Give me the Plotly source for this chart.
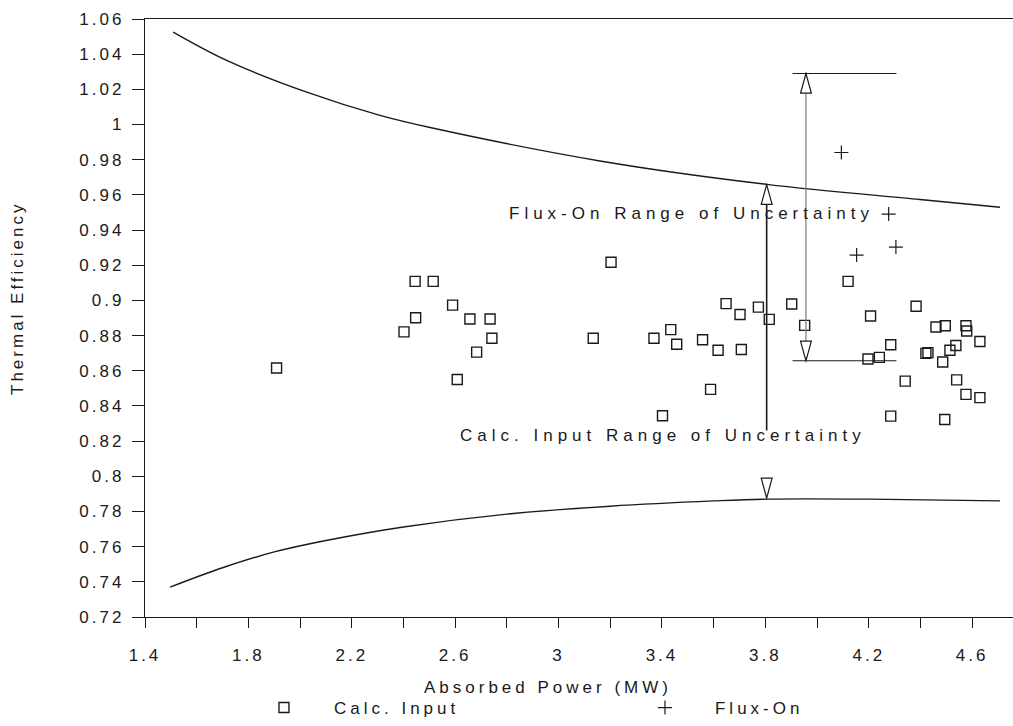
import plotly.graph_objects as go

# ---------------- data ----------------
calc_x = [1.909, 2.402, 2.445, 2.447, 2.515, 2.590, 2.608, 2.657, 2.683, 2.735,
          2.742, 3.134, 3.203, 3.369, 3.402, 3.434, 3.457, 3.557, 3.588, 3.617,
          3.648, 3.702, 3.707, 3.773, 3.815, 3.902, 3.952, 4.120, 4.197, 4.207,
          4.241, 4.285, 4.285, 4.341, 4.383, 4.421, 4.429, 4.460, 4.486, 4.494,
          4.496, 4.514, 4.537, 4.540, 4.576, 4.579, 4.576, 4.630, 4.630]
calc_y = [0.8616, 0.8821, 0.9108, 0.8901, 0.9108, 0.8973, 0.8550, 0.8894, 0.8706, 0.8894,
          0.8785, 0.8785, 0.9217, 0.8785, 0.8344, 0.8834, 0.8751, 0.8776, 0.8494, 0.8717,
          0.8982, 0.8920, 0.8721, 0.8962, 0.8892, 0.8980, 0.8858, 0.9108, 0.8667, 0.8911,
          0.8676, 0.8748, 0.8342, 0.8541, 0.8967, 0.8699, 0.8703, 0.8849, 0.8650, 0.8323,
          0.8856, 0.8717, 0.8744, 0.8548, 0.8856, 0.8826, 0.8466, 0.8766, 0.8447]

flux_x = [4.094, 4.277, 4.305, 4.153]
flux_y = [0.9841, 0.9491, 0.9303, 0.9258]

upper_x = [1.509, 1.716, 2.026, 2.309, 2.503, 3.160, 3.805, 4.398, 4.708]
upper_y = [1.0526, 1.0365, 1.0184, 1.0052, 0.9983, 0.9793, 0.9660, 0.9574, 0.9530]

lower_x = [1.497, 1.700, 1.900, 2.100, 2.400, 2.800, 3.200, 3.600, 3.800, 4.200, 4.708]
lower_y = [0.7370, 0.7480, 0.7570, 0.7635, 0.7712, 0.7785, 0.7830, 0.7860, 0.7870, 0.7870, 0.7860]

y_ticks = [0.72, 0.74, 0.76, 0.78, 0.80, 0.82, 0.84, 0.86, 0.88, 0.90,
           0.92, 0.94, 0.96, 0.98, 1.00, 1.02, 1.04, 1.06]
y_tick_labels = ["0.72", "0.74", "0.76", "0.78", "0.8", "0.82", "0.84", "0.86", "0.88", "0.9",
                 "0.92", "0.94", "0.96", "0.98", "1", "1.02", "1.04", "1.06"]
x_ticks = [1.4, 1.8, 2.2, 2.6, 3.0, 3.4, 3.8, 4.2, 4.6]
x_tick_labels = ["1.4", "1.8", "2.2", "2.6", "3", "3.4", "3.8", "4.2", "4.6"]

# uncertainty-range markers (annotation geometry)
calc_range = dict(x=3.805, top=0.9658, line_bottom=0.826, head_top=0.799, head_tip=0.7875)
flux_range = dict(x=3.957, top=1.029, bottom=0.8657, x0=3.905, x1=4.307)

FONT = "Liberation Sans, Arial, sans-serif"
INK = "#1a1a1a"


def spaced(text, px):
    return f'<span style="letter-spacing:{px}px">{text}</span>'


fig = go.Figure()

fig.add_trace(go.Scatter(x=upper_x, y=upper_y, mode="lines",
                         line=dict(color=INK, width=1.4, shape="spline", smoothing=1.0),
                         showlegend=False, hoverinfo="skip"))
fig.add_trace(go.Scatter(x=lower_x, y=lower_y, mode="lines",
                         line=dict(color=INK, width=1.4, shape="spline", smoothing=1.0),
                         showlegend=False, hoverinfo="skip"))

fig.add_trace(go.Scatter(x=calc_x, y=calc_y, mode="markers", name=spaced("Calc. Input", 4),
                         marker=dict(symbol="square-open", size=10, color=INK,
                                     line=dict(width=1.4, color=INK))))
fig.add_trace(go.Scatter(x=flux_x, y=flux_y, mode="markers", name=spaced("Flux-On", 4),
                         marker=dict(symbol="cross-thin-open", size=10, color=INK,
                                     line=dict(width=1.2, color=INK))))

# ---------------- range indicators ----------------
hw = 0.021   # half width of the hollow arrow heads (x units)
hh = 0.0112  # height of arrow heads (y units)
shapes = []
cx = calc_range["x"]
shapes.append(dict(type="path", xref="x", yref="y",
                   path=f"M {cx-hw},{calc_range['top']-hh} L {cx},{calc_range['top']} L {cx+hw},{calc_range['top']-hh} Z",
                   line=dict(color=INK, width=1.2), fillcolor="white"))
shapes.append(dict(type="line", xref="x", yref="y", x0=cx, x1=cx,
                   y0=calc_range["top"] - hh, y1=calc_range["line_bottom"],
                   line=dict(color=INK, width=1.6)))
shapes.append(dict(type="path", xref="x", yref="y",
                   path=f"M {cx-hw},{calc_range['head_top']} L {cx},{calc_range['head_tip']} L {cx+hw},{calc_range['head_top']} Z",
                   line=dict(color=INK, width=1.2), fillcolor="white"))

fx = flux_range["x"]
shapes.append(dict(type="line", xref="x", yref="y", x0=flux_range["x0"], x1=flux_range["x1"],
                   y0=flux_range["top"], y1=flux_range["top"], line=dict(color=INK, width=1.2)))
shapes.append(dict(type="line", xref="x", yref="y", x0=flux_range["x0"], x1=flux_range["x1"],
                   y0=flux_range["bottom"], y1=flux_range["bottom"], line=dict(color=INK, width=1.2)))
shapes.append(dict(type="line", xref="x", yref="y", x0=fx, x1=fx,
                   y0=flux_range["top"] - hh, y1=flux_range["bottom"] + hh,
                   line=dict(color="#7a7a7a", width=1.2)))
shapes.append(dict(type="path", xref="x", yref="y",
                   path=f"M {fx-hw},{flux_range['top']-hh} L {fx},{flux_range['top']} L {fx+hw},{flux_range['top']-hh} Z",
                   line=dict(color=INK, width=1.2), fillcolor="white"))
shapes.append(dict(type="path", xref="x", yref="y",
                   path=f"M {fx-hw},{flux_range['bottom']+hh} L {fx},{flux_range['bottom']} L {fx+hw},{flux_range['bottom']+hh} Z",
                   line=dict(color=INK, width=1.2), fillcolor="white"))

annotations = [
    dict(x=3.514, y=0.9493, xref="x", yref="y", showarrow=False,
         text=spaced("Flux-On Range of Uncertainty", 5), font=dict(size=17, color=INK, family=FONT)),
    dict(x=3.404, y=0.8230, xref="x", yref="y", showarrow=False,
         text=spaced("Calc. Input Range of Uncertainty", 5), font=dict(size=17, color=INK, family=FONT)),
    dict(x=2.959, y=-0.1176, xref="x", yref="paper", showarrow=False, yanchor="middle",
         text=spaced("Absorbed Power (MW)", 4), font=dict(size=17, color=INK, family=FONT)),
    dict(x=-0.1463, y=0.5335, xref="paper", yref="paper", showarrow=False, textangle=-90,
         xanchor="center", yanchor="middle",
         text=spaced("Thermal Efficiency", 3), font=dict(size=17, color=INK, family=FONT)),
]

fig.update_layout(
    width=1013, height=726, autosize=False,
    margin=dict(l=145, r=0, t=19, b=104, pad=0),
    paper_bgcolor="white", plot_bgcolor="white",
    font=dict(family=FONT, size=17, color=INK),
    shapes=shapes, annotations=annotations,
    showlegend=True,
    legend=dict(orientation="h", x=0.1025, xanchor="left", y=-0.1524, yanchor="middle",
                itemwidth=90, entrywidth=276, entrywidthmode="pixels",
                font=dict(size=17, color=INK, family=FONT), bgcolor="rgba(0,0,0,0)"),
)

fig.update_xaxes(range=[1.4, 4.758], tickvals=x_ticks,
                 ticktext=[spaced(t, 3) for t in x_tick_labels],
                 ticks="outside", ticklen=10, tickwidth=1.2, tickcolor=INK,
                 minor=dict(dtick=0.2, tick0=1.4, ticks="outside", ticklen=10, tickwidth=1.2, tickcolor=INK),
                 showline=True, linecolor=INK, linewidth=1.4, mirror=True,
                 showgrid=False, zeroline=False, ticklabelstandoff=12,
                 tickfont=dict(size=17, family=FONT, color=INK))
fig.update_yaxes(range=[0.72, 1.06], tickvals=y_ticks,
                 ticktext=[spaced(t, 3) for t in y_tick_labels],
                 ticks="outside", ticklen=12, tickwidth=1.2, tickcolor=INK,
                 showline=True, linecolor=INK, linewidth=1.4, mirror=False,
                 showgrid=False, zeroline=False, ticklabelstandoff=4,
                 tickfont=dict(size=17, family=FONT, color=INK))

fig.write_html("out.html")
